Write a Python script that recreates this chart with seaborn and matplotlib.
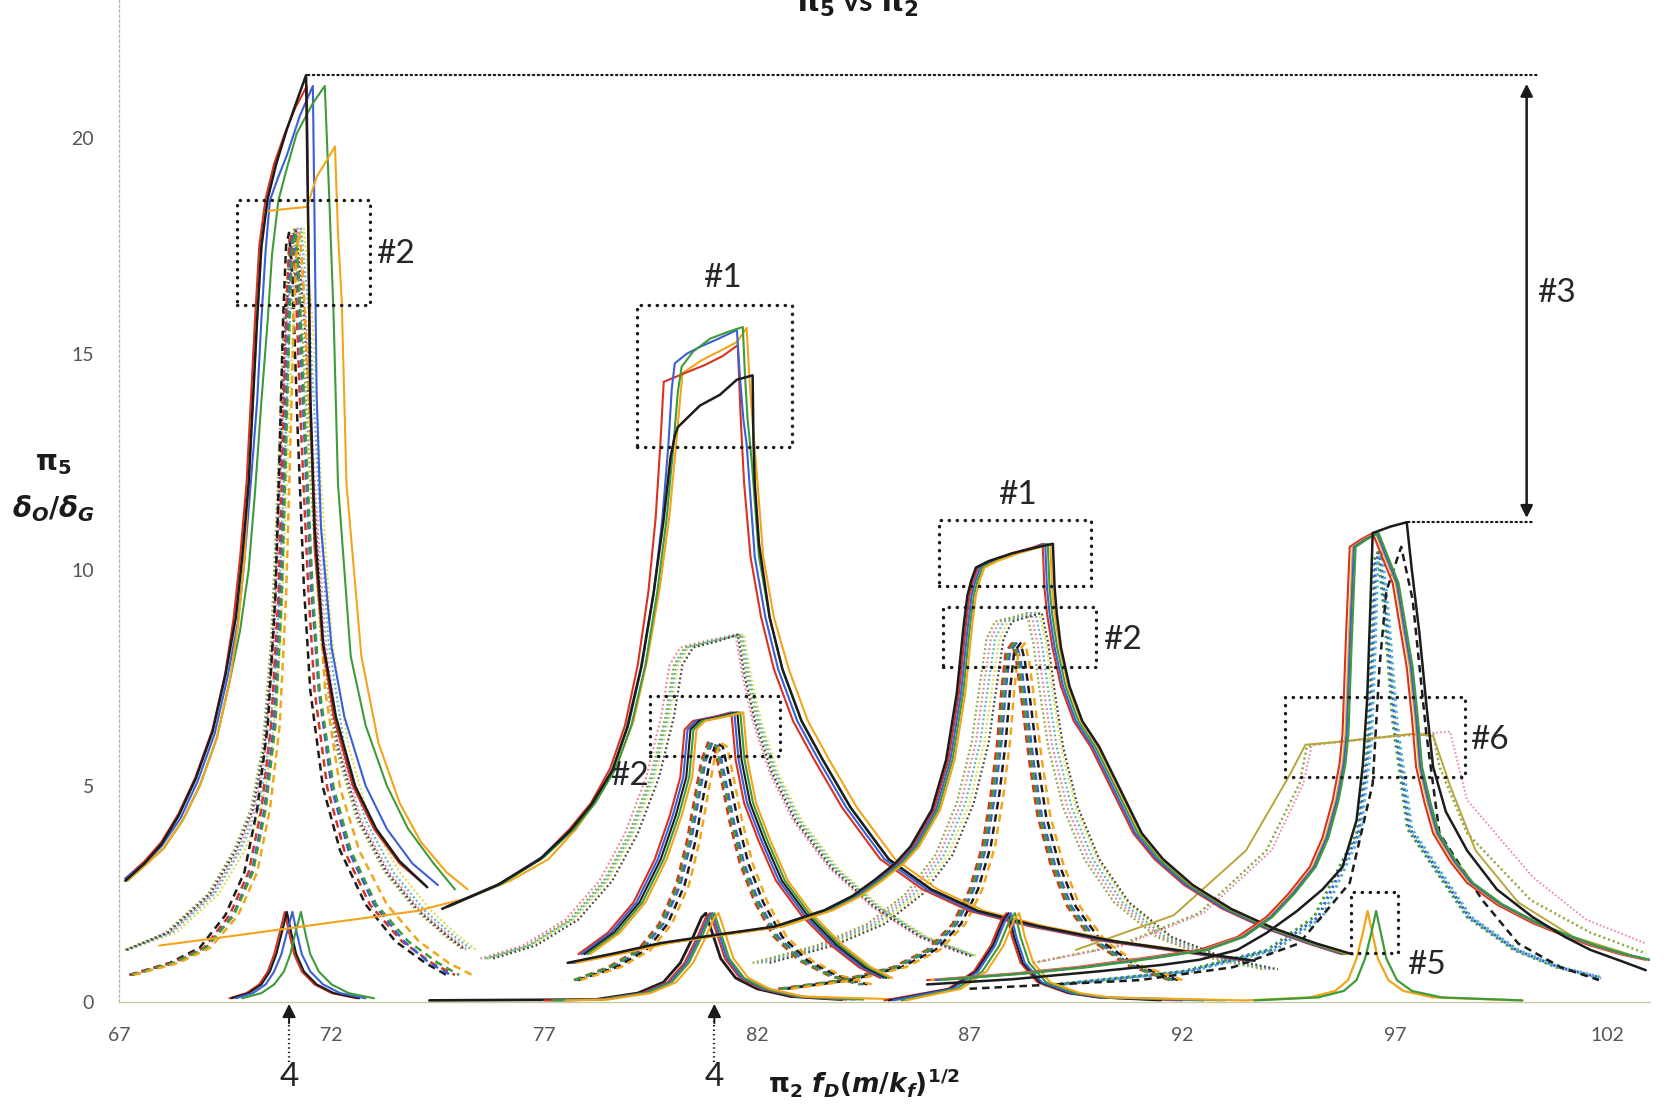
import matplotlib
matplotlib.use("Agg")
import matplotlib.pyplot as plt
from matplotlib.patches import Rectangle
import seaborn as sns

# ---------------------------------------------------------------- data
# Peak near pi2 = 71 : large solid responses
P1_RED_X = [67.15, 67.6, 68.0, 68.4, 68.8, 69.2, 69.5, 69.7, 69.85, 70.0, 70.1, 70.2, 70.3, 70.45, 70.65, 70.9, 71.15, 71.42, 71.45, 71.5, 71.6, 71.8, 72.05, 72.5, 73.0, 73.6, 74.2]
P1_RED_Y = [2.85, 3.25, 3.7, 4.35, 5.2, 6.3, 7.6, 8.9, 10.3, 12.0, 13.9, 15.8, 17.5, 18.6, 19.4, 20.1, 20.7, 21.2, 18.0, 14.0, 10.5, 8.2, 6.6, 5.0, 4.0, 3.2, 2.7]
P1_BLACK_X = [67.15, 67.6, 68.0, 68.4, 68.8, 69.2, 69.5, 69.75, 69.9, 70.05, 70.15, 70.25, 70.35, 70.5, 70.7, 70.95, 71.2, 71.4, 71.45, 71.5, 71.6, 71.8, 72.1, 72.55, 73.05, 73.6, 74.25]
P1_BLACK_Y = [2.8, 3.2, 3.65, 4.3, 5.15, 6.25, 7.55, 8.9, 10.3, 12.0, 13.9, 15.8, 17.5, 18.6, 19.4, 20.2, 20.9, 21.45, 18.0, 14.0, 11.0, 8.3, 6.6, 5.0, 4.0, 3.25, 2.65]
P1_BLUE_X = [67.15, 67.6, 68.0, 68.45, 68.85, 69.25, 69.55, 69.8, 69.95, 70.1, 70.25, 70.35, 70.45, 70.55, 70.75, 70.95, 71.25, 71.56, 71.6, 71.65, 71.75, 72.0, 72.3, 72.8, 73.3, 73.9, 74.5]
P1_BLUE_Y = [2.85, 3.2, 3.6, 4.25, 5.1, 6.2, 7.5, 8.8, 10.2, 12.0, 13.9, 15.8, 17.4, 18.55, 19.1, 19.6, 20.5, 21.2, 18.0, 14.0, 11.0, 8.2, 6.6, 5.0, 4.0, 3.2, 2.7]
P1_GREEN_X = [67.2, 67.6, 68.05, 68.5, 68.9, 69.3, 69.6, 69.85, 70.05, 70.2, 70.35, 70.5, 70.6, 70.75, 70.95, 71.18, 71.56, 71.84, 71.95, 72.05, 72.15, 72.45, 72.8, 73.3, 73.8, 74.4, 74.9]
P1_GREEN_Y = [2.8, 3.15, 3.55, 4.2, 5.0, 6.1, 7.4, 8.6, 10.0, 11.8, 13.9, 15.8, 17.3, 18.55, 19.3, 20.1, 20.8, 21.2, 18.5, 15.8, 12.0, 8.0, 6.4, 5.0, 4.0, 3.2, 2.6]
P1_ORANGE_X = [67.2, 67.6, 68.05, 68.5, 68.9, 69.3, 69.6, 69.8, 69.95, 70.05, 70.15, 70.25, 70.35, 70.45, 70.9, 71.42, 71.65, 71.9, 72.08, 72.15, 72.24, 72.35, 72.7, 73.1, 73.6, 74.1, 74.7, 75.2]
P1_ORANGE_Y = [2.8, 3.15, 3.55, 4.2, 5.0, 6.1, 7.4, 8.7, 10.2, 12.0, 13.9, 15.8, 17.4, 18.3, 18.35, 18.4, 19.1, 19.5, 19.8, 17.8, 16.2, 12.0, 8.0, 6.0, 4.6, 3.7, 3.0, 2.6]

# Peak near 71 : dashed responses
P1_DASH_Y = [0.62, 0.9, 1.25, 2.0, 3.0, 4.45, 6.4, 9.4, 12.8, 15.8, 17.5, 17.8, 16.8, 13.3, 9.6, 7.2, 4.95, 3.5, 2.25, 1.4, 0.9, 0.62]
P1_DASH_BLACK_X = [67.25, 68.2, 68.9, 69.5, 69.95, 70.25, 70.5, 70.68, 70.78, 70.86, 70.93, 71.0, 71.08, 71.2, 71.35, 71.5, 71.8, 72.2, 72.8, 73.5, 74.2, 74.7]
P1_DASH_RED_X = [67.25, 68.25, 69.0, 69.6, 70.05, 70.35, 70.58, 70.75, 70.85, 70.93, 71.0, 71.07, 71.15, 71.28, 71.45, 71.6, 71.9, 72.3, 72.9, 73.65, 74.35, 74.9]
P1_DASH_BLUE_X = [67.3, 68.3, 69.05, 69.68, 70.12, 70.42, 70.64, 70.8, 70.9, 70.98, 71.05, 71.12, 71.2, 71.35, 71.52, 71.7, 72.0, 72.4, 73.0, 73.7, 74.3, 74.8]
P1_DASH_GREEN_X = [67.3, 68.3, 69.05, 69.7, 70.15, 70.45, 70.68, 70.83, 70.93, 71.01, 71.08, 71.15, 71.23, 71.38, 71.55, 71.72, 72.05, 72.45, 73.05, 73.8, 74.5, 75.0]
P1_DASH_ORANGE_X = [67.35, 68.4, 69.15, 69.8, 70.25, 70.55, 70.78, 70.93, 71.03, 71.11, 71.18, 71.25, 71.33, 71.5, 71.68, 71.85, 72.2, 72.65, 73.3, 74.05, 74.75, 75.3]

# Peak near 71 : dotted responses
P1_DOT_Y = [1.2, 1.6, 2.5, 3.5, 4.45, 5.9, 8.4, 12.1, 15.8, 17.5, 17.9, 15.8, 12.1, 8.4, 5.9, 4.2, 3.0, 2.1, 1.5, 1.2]
P1_DOT_PINK_X = [67.15, 68.2, 69.2, 69.8, 70.2, 70.45, 70.65, 70.8, 70.95, 71.1, 71.2, 71.4, 71.6, 71.85, 72.2, 72.7, 73.35, 74.1, 74.8, 75.2]
P1_DOT_YELLOW_X = [67.2, 68.35, 69.35, 69.95, 70.35, 70.6, 70.8, 70.95, 71.1, 71.25, 71.35, 71.55, 71.75, 72.0, 72.4, 72.9, 73.6, 74.35, 75.0, 75.4]
P1_DOT_OLIVE_X = [67.15, 68.1, 69.1, 69.7, 70.1, 70.38, 70.58, 70.74, 70.88, 71.02, 71.12, 71.3, 71.5, 71.75, 72.1, 72.6, 73.25, 74.0, 74.7, 75.1]
P1_DOT_TEAL_X = [67.2, 68.25, 69.25, 69.85, 70.28, 70.52, 70.72, 70.88, 71.02, 71.18, 71.28, 71.48, 71.68, 71.92, 72.3, 72.8, 73.45, 74.2, 74.9, 75.3]
P1_DOT_DARK_X = [67.18, 68.15, 69.15, 69.75, 70.15, 70.42, 70.62, 70.78, 70.92, 71.06, 71.16, 71.36, 71.56, 71.8, 72.15, 72.65, 73.3, 74.05, 74.75, 75.15]

# Peak near 71 : small responses
P1_SMALL_Y = [0.08, 0.2, 0.4, 0.7, 1.1, 1.6, 2.08, 1.6, 1.1, 0.7, 0.4, 0.2, 0.08]
P1_SMALL_RED_X = [69.6, 70.0, 70.3, 70.5, 70.65, 70.78, 70.9, 71.0, 71.12, 71.3, 71.6, 72.0, 72.6]
P1_SMALL_BLACK_X = [69.65, 70.05, 70.35, 70.55, 70.7, 70.83, 70.95, 71.05, 71.17, 71.35, 71.65, 72.05, 72.65]
P1_SMALL_BLUE_X = [69.75, 70.15, 70.45, 70.65, 70.82, 70.95, 71.08, 71.18, 71.3, 71.5, 71.8, 72.2, 72.8]
P1_SMALL_GREEN_X = [69.9, 70.35, 70.65, 70.88, 71.03, 71.15, 71.28, 71.38, 71.5, 71.7, 72.0, 72.4, 73.0]

# Peak near 81 : large solid responses
P2_RED_X = [74.7, 75.95, 76.95, 77.6, 78.1, 78.55, 78.9, 79.2, 79.45, 79.62, 79.73, 79.81, 80.3, 80.8, 81.2, 81.55, 81.62, 81.7, 81.85, 82.1, 82.4, 82.85, 83.35, 84.0, 84.9, 85.9, 87.0, 88.4, 90.2, 92.0, 93.5]
P2_RED_Y = [2.2, 2.73, 3.35, 4.0, 4.6, 5.4, 6.4, 7.8, 9.5, 11.2, 12.9, 14.35, 14.55, 14.75, 14.95, 15.2, 13.5, 12.0, 10.3, 8.9, 7.7, 6.5, 5.6, 4.5, 3.3, 2.6, 2.1, 1.75, 1.4, 1.15, 0.95]
P2_BLUE_X = [74.7, 75.95, 76.95, 77.65, 78.15, 78.62, 78.98, 79.3, 79.58, 79.78, 79.92, 80.0, 80.07, 80.35, 80.66, 81.1, 81.53, 81.6, 81.68, 81.76, 81.95, 82.2, 82.5, 82.95, 83.45, 84.1, 85.0, 86.0, 87.1, 88.5, 90.3, 92.1, 93.6]
P2_BLUE_Y = [2.2, 2.73, 3.35, 4.0, 4.6, 5.4, 6.4, 7.8, 9.5, 11.2, 12.9, 14.2, 14.78, 15.0, 15.16, 15.35, 15.55, 14.5, 13.5, 12.9, 10.3, 8.9, 7.7, 6.5, 5.6, 4.5, 3.3, 2.6, 2.1, 1.75, 1.4, 1.15, 0.95]
P2_GREEN_X = [74.75, 76.0, 77.0, 77.7, 78.2, 78.68, 79.05, 79.38, 79.66, 79.88, 80.04, 80.14, 80.23, 80.5, 80.9, 81.3, 81.67, 81.72, 81.78, 81.88, 82.05, 82.3, 82.6, 83.05, 83.55, 84.2, 85.1, 86.1, 87.2, 88.6, 90.4, 92.2, 93.7]
P2_GREEN_Y = [2.2, 2.73, 3.35, 4.0, 4.6, 5.4, 6.4, 7.8, 9.5, 11.2, 12.9, 14.1, 14.7, 15.05, 15.35, 15.5, 15.62, 14.5, 13.5, 12.5, 10.3, 8.9, 7.7, 6.5, 5.6, 4.5, 3.3, 2.6, 2.1, 1.75, 1.4, 1.15, 0.95]
P2_ORANGE_X = [67.95, 69.5, 71.0, 72.5, 74.0, 75.2, 76.2, 77.1, 77.75, 78.25, 78.72, 79.1, 79.42, 79.72, 79.95, 80.1, 80.2, 80.25, 80.7, 81.1, 81.53, 81.76, 81.82, 81.9, 82.0, 82.15, 82.4, 82.75, 83.2, 83.7, 84.35, 85.25, 86.25, 87.35, 88.75, 90.5, 92.3]
P2_ORANGE_Y = [1.3, 1.5, 1.7, 1.9, 2.1, 2.4, 2.8, 3.3, 4.0, 4.7, 5.5, 6.5, 7.9, 9.6, 11.3, 12.9, 14.0, 14.55, 14.85, 15.05, 15.27, 15.6, 14.5, 13.4, 12.2, 10.3, 8.9, 7.7, 6.5, 5.6, 4.5, 3.3, 2.6, 2.1, 1.75, 1.4, 1.15]
P2_BLACK_X = [74.6, 75.9, 76.9, 77.6, 78.1, 78.6, 78.95, 79.28, 79.57, 79.8, 79.97, 80.07, 80.14, 80.4, 80.66, 81.13, 81.53, 81.9, 81.92, 81.95, 82.05, 82.3, 82.6, 83.05, 83.55, 84.2, 85.1, 86.1, 87.2, 88.6, 90.4, 92.2, 93.7]
P2_BLACK_Y = [2.15, 2.7, 3.3, 3.95, 4.55, 5.35, 6.35, 7.75, 9.45, 11.1, 12.6, 13.1, 13.3, 13.55, 13.8, 14.05, 14.4, 14.5, 13.0, 12.0, 10.6, 8.9, 7.7, 6.5, 5.6, 4.5, 3.3, 2.6, 2.1, 1.75, 1.4, 1.15, 0.95]

# Peak near 81 : medium solid responses
P2_MID_Y = [1.1, 1.6, 2.3, 3.3, 4.3, 5.2, 6.3, 6.5, 6.6, 6.7, 5.6, 4.6, 3.7, 2.8, 2.0, 1.3, 0.8, 0.55]
P2_MID_RED_X = [77.8, 78.5, 79.1, 79.6, 79.95, 80.2, 80.3, 80.5, 81.0, 81.4, 81.5, 81.7, 82.05, 82.45, 83.05, 83.75, 84.4, 84.9]
P2_MID_BLUE_X = [77.87, 78.57, 79.17, 79.67, 80.02, 80.27, 80.37, 80.57, 81.07, 81.47, 81.57, 81.77, 82.12, 82.52, 83.12, 83.82, 84.47, 84.97]
P2_MID_BLACK_X = [77.94, 78.64, 79.24, 79.74, 80.09, 80.34, 80.44, 80.64, 81.14, 81.54, 81.64, 81.84, 82.19, 82.59, 83.19, 83.89, 84.54, 85.04]
P2_MID_GREEN_X = [78.01, 78.71, 79.31, 79.81, 80.16, 80.41, 80.51, 80.71, 81.21, 81.61, 81.71, 81.91, 82.26, 82.66, 83.26, 83.96, 84.61, 85.11]
P2_MID_ORANGE_X = [78.08, 78.78, 79.38, 79.88, 80.23, 80.48, 80.58, 80.78, 81.28, 81.68, 81.78, 81.98, 82.33, 82.73, 83.33, 84.03, 84.68, 85.18]

# Peak near 81 : dashed responses
P2_DASH_Y = [0.5, 0.8, 1.2, 1.8, 2.7, 3.7, 4.8, 5.6, 6.0, 5.9, 5.2, 4.2, 3.2, 2.3, 1.5, 0.95, 0.6, 0.4]
P2_DASH_RED_X = [77.7, 78.5, 79.2, 79.7, 80.1, 80.35, 80.55, 80.7, 80.85, 81.0, 81.15, 81.35, 81.6, 81.95, 82.4, 83.0, 83.7, 84.4]
P2_DASH_BLUE_X = [77.75, 78.6, 79.3, 79.8, 80.2, 80.45, 80.65, 80.8, 80.95, 81.1, 81.25, 81.45, 81.7, 82.05, 82.5, 83.1, 83.8, 84.5]
P2_DASH_BLACK_X = [77.8, 78.7, 79.4, 79.9, 80.3, 80.55, 80.75, 80.9, 81.05, 81.2, 81.35, 81.55, 81.8, 82.15, 82.6, 83.2, 83.9, 84.6]
P2_DASH_GREEN_X = [77.7, 78.55, 79.25, 79.75, 80.15, 80.4, 80.6, 80.75, 80.9, 81.05, 81.2, 81.4, 81.65, 82.0, 82.45, 83.05, 83.75, 84.45]
P2_DASH_ORANGE_X = [77.85, 78.8, 79.5, 80.0, 80.4, 80.65, 80.85, 81.0, 81.15, 81.3, 81.45, 81.65, 81.9, 82.25, 82.7, 83.3, 84.0, 84.7]

# Peak near 81 : dotted responses
P2_DOT_Y = [1.0, 1.3, 1.9, 2.8, 3.9, 5.2, 6.6, 7.8, 8.2, 8.35, 8.5, 7.6, 6.5, 5.3, 4.2, 3.1, 2.2, 1.5, 1.05]
P2_DOT_PINK_X = [75.5, 76.5, 77.5, 78.3, 78.9, 79.4, 79.75, 79.95, 80.2, 80.8, 81.5, 81.65, 81.9, 82.3, 82.85, 83.7, 84.7, 85.8, 87.0]
P2_DOT_OLIVE_X = [75.6, 76.6, 77.6, 78.4, 79.0, 79.5, 79.85, 80.05, 80.3, 80.9, 81.6, 81.75, 82.0, 82.4, 82.95, 83.8, 84.8, 85.9, 87.1]
P2_DOT_YELLOW_X = [75.7, 76.7, 77.7, 78.5, 79.1, 79.6, 79.95, 80.15, 80.4, 81.0, 81.7, 81.85, 82.1, 82.5, 83.05, 83.9, 84.9, 86.0, 87.2]
P2_DOT_TEAL_X = [75.65, 76.65, 77.65, 78.45, 79.05, 79.55, 79.9, 80.1, 80.35, 80.95, 81.65, 81.8, 82.05, 82.45, 83.0, 83.85, 84.85, 85.95, 87.15]
P2_DOT_DARK_X = [75.8, 76.8, 77.8, 78.6, 79.2, 79.7, 80.05, 80.25, 80.5, 81.1, 81.55, 81.7, 81.95, 82.35, 82.9, 83.75, 84.75, 85.85, 87.05]

# Peak near 81 : small responses
P2_SMALL_Y = [0.03, 0.05, 0.2, 0.45, 0.9, 1.5, 1.95, 2.05, 1.6, 1.0, 0.55, 0.3, 0.12, 0.05]
P2_SMALL_BLACK_X = [74.3, 78.2, 79.2, 79.8, 80.2, 80.5, 80.7, 80.8, 80.95, 81.15, 81.5, 82.0, 82.8, 84.0]
P2_SMALL_RED_X = [77.0, 78.3, 79.3, 79.9, 80.3, 80.6, 80.8, 80.9, 81.05, 81.25, 81.6, 82.1, 82.9, 84.1]
P2_SMALL_BLUE_X = [77.3, 78.35, 79.35, 79.95, 80.35, 80.65, 80.85, 80.95, 81.1, 81.3, 81.65, 82.15, 82.95, 84.3]
P2_SMALL_GREEN_X = [77.2, 78.4, 79.4, 80.0, 80.4, 80.7, 80.9, 81.0, 81.15, 81.35, 81.7, 82.2, 83.0, 84.5]
P2_SMALL_ORANGE_X = [77.5, 78.5, 79.5, 80.1, 80.5, 80.8, 81.0, 81.1, 81.25, 81.45, 81.8, 82.3, 83.1, 85.5]

# Peak near 88 : large solid responses
P3_Y = [0.9, 1.12, 1.36, 1.55, 1.74, 2.12, 2.45, 2.82, 3.2, 3.59, 4.44, 5.6, 7.14, 8.69, 9.4, 9.75, 10.05, 10.2, 10.38, 10.52, 10.6, 9.6, 9.0, 8.2, 7.3, 6.5, 5.9, 4.9, 3.9, 3.3, 2.7, 2.15, 1.7, 1.35, 1.1]
P3_RED_X = [77.6, 78.7, 79.8, 81.1, 82.47, 83.64, 84.3, 84.82, 85.3, 85.66, 86.16, 86.5, 86.75, 86.91, 87.0, 87.09, 87.2, 87.5, 88.0, 88.5, 88.72, 88.76, 88.82, 88.95, 89.15, 89.45, 89.85, 90.35, 90.85, 91.35, 92.05, 92.95, 93.95, 94.95, 95.75]
P3_BLUE_X = [77.65, 78.75, 79.85, 81.15, 82.52, 83.69, 84.35, 84.87, 85.35, 85.71, 86.21, 86.55, 86.8, 86.96, 87.05, 87.14, 87.25, 87.55, 88.05, 88.55, 88.78, 88.82, 88.88, 89.0, 89.2, 89.5, 89.9, 90.4, 90.9, 91.4, 92.1, 93.0, 94.0, 95.0, 95.8]
P3_GREEN_X = [77.7, 78.8, 79.9, 81.2, 82.57, 83.74, 84.4, 84.92, 85.4, 85.76, 86.26, 86.6, 86.85, 87.01, 87.1, 87.19, 87.3, 87.6, 88.1, 88.6, 88.84, 88.88, 88.94, 89.06, 89.26, 89.56, 89.96, 90.46, 90.96, 91.46, 92.16, 93.06, 94.06, 95.06, 95.86]
P3_ORANGE_X = [77.75, 78.85, 79.95, 81.25, 82.62, 83.79, 84.45, 84.97, 85.45, 85.81, 86.31, 86.65, 86.9, 87.06, 87.15, 87.24, 87.35, 87.65, 88.15, 88.65, 88.9, 88.94, 89.0, 89.12, 89.32, 89.62, 90.02, 90.52, 91.02, 91.52, 92.22, 93.12, 94.12, 95.12, 95.92]
P3_BLACK_X = [77.55, 78.65, 79.75, 81.05, 82.42, 83.59, 84.25, 84.77, 85.25, 85.61, 86.11, 86.45, 86.7, 86.86, 86.95, 87.04, 87.15, 87.45, 88.0, 88.58, 88.96, 89.0, 89.05, 89.15, 89.35, 89.65, 90.05, 90.55, 91.05, 91.55, 92.25, 93.15, 94.15, 95.15, 96.0]

# Peak near 88 : dashed responses
P3_DASH_Y = [0.3, 0.5, 0.8, 1.2, 1.8, 2.6, 3.6, 4.8, 6.0, 7.2, 8.1, 8.3, 7.9, 6.8, 5.6, 4.3, 3.2, 2.2, 1.4, 0.85, 0.5]
P3_DASH_RED_X = [82.5, 84.0, 85.2, 86.0, 86.6, 87.0, 87.3, 87.5, 87.65, 87.75, 87.85, 88.0, 88.1, 88.25, 88.4, 88.6, 88.9, 89.3, 89.9, 90.7, 91.7]
P3_DASH_BLUE_X = [82.6, 84.1, 85.3, 86.1, 86.7, 87.1, 87.4, 87.6, 87.75, 87.85, 87.95, 88.1, 88.2, 88.35, 88.5, 88.7, 89.0, 89.4, 90.0, 90.8, 91.8]
P3_DASH_BLACK_X = [82.7, 84.2, 85.4, 86.2, 86.8, 87.2, 87.5, 87.7, 87.85, 87.95, 88.05, 88.2, 88.3, 88.45, 88.6, 88.8, 89.1, 89.5, 90.1, 90.9, 91.9]
P3_DASH_GREEN_X = [82.55, 84.05, 85.25, 86.05, 86.65, 87.05, 87.35, 87.55, 87.7, 87.8, 87.9, 88.05, 88.15, 88.3, 88.45, 88.65, 88.95, 89.35, 89.95, 90.75, 91.75]
P3_DASH_ORANGE_X = [82.8, 84.3, 85.5, 86.3, 86.9, 87.3, 87.6, 87.8, 87.95, 88.05, 88.15, 88.3, 88.4, 88.55, 88.7, 88.9, 89.2, 89.6, 90.2, 91.0, 92.0]

# Peak near 88 : dotted responses
P3_DOT_Y = [0.9, 1.3, 1.8, 2.5, 3.4, 4.6, 6.0, 7.4, 8.4, 8.8, 8.9, 9.0, 8.3, 7.2, 5.9, 4.5, 3.3, 2.3, 1.5, 1.0, 0.75]
P3_DOT_PINK_X = [82.0, 83.5, 84.7, 85.6, 86.3, 86.8, 87.15, 87.35, 87.5, 87.7, 88.1, 88.45, 88.6, 88.75, 88.95, 89.3, 89.8, 90.5, 91.5, 92.8, 94.0]
P3_DOT_YELLOW_X = [82.2, 83.7, 84.9, 85.8, 86.5, 87.0, 87.35, 87.55, 87.7, 87.9, 88.3, 88.65, 88.8, 88.95, 89.15, 89.5, 90.0, 90.7, 91.7, 93.0, 94.2]
P3_DOT_OLIVE_X = [81.9, 83.4, 84.6, 85.5, 86.2, 86.7, 87.05, 87.25, 87.4, 87.6, 88.0, 88.35, 88.5, 88.65, 88.85, 89.2, 89.7, 90.4, 91.4, 92.7, 93.9]
P3_DOT_TEAL_X = [82.1, 83.6, 84.8, 85.7, 86.4, 86.9, 87.25, 87.45, 87.6, 87.8, 88.2, 88.55, 88.7, 88.85, 89.05, 89.4, 89.9, 90.6, 91.6, 92.9, 94.1]
P3_DOT_DARK_X = [82.3, 83.8, 85.0, 85.9, 86.6, 87.1, 87.45, 87.65, 87.8, 88.0, 88.35, 88.7, 88.85, 89.0, 89.2, 89.55, 90.05, 90.75, 91.75, 93.05, 94.25]

# Peak near 88 : small responses
P3_SMALL_Y = [0.03, 0.3, 0.7, 1.3, 1.9, 2.05, 1.5, 0.9, 0.45, 0.2, 0.1, 0.03]
P3_SMALL_RED_X = [85.0, 86.5, 87.1, 87.5, 87.75, 87.87, 88.0, 88.2, 88.6, 89.3, 90.0, 92.0]
P3_SMALL_BLACK_X = [85.1, 86.55, 87.15, 87.55, 87.8, 87.92, 88.05, 88.25, 88.65, 89.35, 90.05, 91.5]
P3_SMALL_BLUE_X = [85.2, 86.6, 87.2, 87.6, 87.85, 87.97, 88.1, 88.3, 88.7, 89.4, 90.1, 92.5]
P3_SMALL_GREEN_X = [85.4, 86.7, 87.3, 87.7, 87.95, 88.07, 88.2, 88.4, 88.8, 89.5, 90.2, 93.0]
P3_SMALL_ORANGE_X = [85.5, 86.8, 87.4, 87.8, 88.05, 88.17, 88.3, 88.5, 88.9, 89.6, 90.3, 93.5]

# Peak near 96 : large solid responses
P4_Y = [0.5, 0.65, 0.8, 1.0, 1.2, 1.5, 1.96, 2.5, 3.12, 3.8, 4.67, 5.5, 6.2, 8.4, 10.53, 10.7, 10.85, 10.3, 9.69, 8.8, 7.75, 6.6, 5.44, 4.6, 3.9, 3.25, 2.75, 2.25, 1.82, 1.52, 1.3, 1.1, 0.97]
P4_RED_X = [86.0, 88.0, 89.5, 91.0, 92.4, 93.3, 93.98, 94.5, 95.0, 95.3, 95.54, 95.7, 95.77, 95.85, 95.94, 96.2, 96.48, 96.7, 96.95, 97.1, 97.28, 97.4, 97.5, 97.7, 97.9, 98.3, 98.7, 99.4, 100.24, 101.0, 101.6, 102.3, 102.9]
P4_ORANGE_X = [86.1, 88.1, 89.6, 91.1, 92.5, 93.38, 94.05, 94.57, 95.07, 95.37, 95.61, 95.77, 95.84, 95.92, 96.01, 96.27, 96.55, 96.77, 97.02, 97.17, 97.35, 97.47, 97.57, 97.77, 97.97, 98.37, 98.77, 99.47, 100.31, 101.07, 101.67, 102.37, 102.97]
P4_BLUE_X = [86.2, 88.2, 89.7, 91.2, 92.55, 93.42, 94.08, 94.6, 95.1, 95.4, 95.64, 95.8, 95.87, 95.95, 96.04, 96.3, 96.58, 96.8, 97.05, 97.2, 97.38, 97.5, 97.6, 97.8, 98.0, 98.4, 98.8, 99.5, 100.34, 101.1, 101.7, 102.4, 103.0]
P4_GREEN_X = [86.3, 88.3, 89.8, 91.3, 92.6, 93.46, 94.12, 94.64, 95.14, 95.44, 95.68, 95.84, 95.91, 95.99, 96.08, 96.34, 96.62, 96.84, 97.09, 97.24, 97.42, 97.54, 97.64, 97.84, 98.04, 98.44, 98.84, 99.54, 100.38, 101.14, 101.74, 102.44, 103.0]
P4_BLACK_X = [86.0, 88.0, 90.0, 91.5, 92.4, 93.3, 93.98, 94.7, 95.3, 95.77, 96.1, 96.25, 96.35, 96.42, 96.48, 96.9, 97.28, 97.4, 97.58, 97.75, 97.9, 98.2, 98.7, 99.4, 100.24, 101.0, 101.6, 102.3, 102.9]
P4_BLACK_Y = [0.4, 0.52, 0.7, 0.85, 0.97, 1.2, 1.59, 2.1, 2.6, 3.12, 4.2, 5.5, 7.0, 9.0, 10.85, 11.0, 11.1, 10.0, 8.52, 6.8, 5.44, 4.4, 3.5, 2.6, 1.96, 1.5, 1.2, 0.95, 0.73]

# Peak near 96 : dashed responses
P4_DASH_BLACK_X = [87.0, 91.0, 93.2, 94.75, 95.94, 96.48, 96.64, 96.8, 97.15, 97.42, 97.74, 98.05, 99.06, 99.9, 100.9, 101.8]
P4_DASH_BLACK_Y = [0.3, 0.5, 0.8, 1.35, 2.75, 5.05, 7.75, 9.5, 10.53, 9.3, 6.22, 3.9, 2.35, 1.35, 0.8, 0.5]
P4_NARROW_Y = [0.4, 0.7, 1.2, 1.96, 3.9, 6.0, 8.5, 10.2, 10.4, 9.0, 6.5, 4.0, 1.96, 1.2, 0.8, 0.55]
P4_NARROW_GREEN_X = [89.0, 92.0, 94.0, 95.1, 96.1, 96.35, 96.45, 96.5, 96.6, 96.75, 96.95, 97.3, 98.7, 99.8, 100.8, 101.8]
P4_NARROW_BLUE_X = [89.1, 92.1, 94.1, 95.2, 96.15, 96.4, 96.5, 96.55, 96.65, 96.8, 97.0, 97.35, 98.75, 99.85, 100.85, 101.85]
P4_NARROW_TEAL_X = [89.2, 92.2, 94.2, 95.3, 96.2, 96.45, 96.55, 96.6, 96.7, 96.85, 97.05, 97.4, 98.8, 99.9, 100.9, 101.9]

# Peak near 96 : flat-topped responses
P4_FLAT_OLIVE_X = [88.5, 90.5, 92.4, 93.98, 94.76, 94.93, 95.1, 96.0, 97.0, 97.9, 98.05, 98.7, 100.2, 101.6, 102.9]
P4_FLAT_OLIVE_Y = [0.9, 1.3, 2.05, 3.5, 5.05, 5.9, 5.95, 6.05, 6.15, 6.21, 5.44, 3.9, 2.35, 1.6, 1.12]
P4_FLAT_PINK_X = [88.5, 90.6, 92.5, 94.1, 94.85, 95.05, 95.5, 96.5, 97.5, 98.3, 98.7, 100.24, 101.5, 102.9]
P4_FLAT_PINK_Y = [0.9, 1.3, 2.05, 3.5, 5.05, 5.95, 6.0, 6.1, 6.2, 6.25, 4.67, 2.89, 1.9, 1.35]
P4_FLAT_SOLID_X = [89.5, 91.8, 93.5, 94.5, 94.9, 95.5, 96.5, 97.4, 97.9, 98.3, 98.9, 99.9, 101.2, 102.5]
P4_FLAT_SOLID_Y = [1.2, 2.0, 3.5, 5.2, 5.95, 6.0, 6.1, 6.2, 6.15, 5.0, 3.5, 2.3, 1.5, 1.1]

# Peak near 96 : small responses
P4_SMALL_Y = [0.03, 0.1, 0.25, 0.5, 1.0, 1.6, 2.1, 1.6, 1.0, 0.5, 0.25, 0.1, 0.03]
P4_SMALL_ORANGE_X = [93.5, 95.0, 95.6, 95.9, 96.1, 96.25, 96.36, 96.47, 96.6, 96.85, 97.2, 97.9, 100.0]
P4_SMALL_GREEN_X = [93.7, 95.2, 95.8, 96.1, 96.3, 96.45, 96.56, 96.67, 96.8, 97.05, 97.4, 98.1, 100.0]

X_TICKS = [67, 72, 77, 82, 87, 92, 97, 102]
Y_TICKS = [0, 5, 10, 15, 20]

# ---------------------------------------------------------------- style
sns.set_style("white")
plt.rcParams["font.family"] = ["Lato", "DejaVu Sans"]
plt.rcParams["mathtext.fontset"] = "custom"
plt.rcParams["mathtext.rm"] = "DejaVu Sans:bold"
plt.rcParams["mathtext.it"] = "DejaVu Sans:bold:italic"
plt.rcParams["mathtext.bf"] = "DejaVu Sans:bold"

RED = "#d9321f"
BLUE = "#3a5fd9"
GREEN = "#3e9b3a"
ORANGE = "#f2a51a"
BLACK = "#1c1c1c"
PINK = "#ef7fa8"
YELLOW = "#e3dc3c"
OLIVE = "#8aa83c"
TEAL = "#4fb6c4"
DARK = "#444444"

SOLID = "-"
DASHED = (0, (3, 2))
DOTTED = (0, (0.8, 1.2))

fig = plt.figure(figsize=(16.68, 11.07), dpi=100)
ax = fig.add_axes([0.0713, 0.0951, 0.9179, 0.9049])


def curve(x, y, color, ls=SOLID, lw=1.5):
    sns.lineplot(x=x, y=y, sort=False, estimator=None, color=color,
                 linestyle=ls, linewidth=lw, ax=ax, legend=False)


# dotted families first
for xs, c in [(P1_DOT_PINK_X, PINK), (P1_DOT_YELLOW_X, YELLOW), (P1_DOT_OLIVE_X, OLIVE),
              (P1_DOT_TEAL_X, TEAL), (P1_DOT_DARK_X, DARK)]:
    curve(xs, P1_DOT_Y, c, DOTTED, 1.6)
for xs, c in [(P2_DOT_PINK_X, PINK), (P2_DOT_YELLOW_X, YELLOW), (P2_DOT_OLIVE_X, OLIVE),
              (P2_DOT_TEAL_X, TEAL), (P2_DOT_DARK_X, DARK)]:
    curve(xs, P2_DOT_Y, c, DOTTED, 1.6)
for xs, c in [(P3_DOT_PINK_X, PINK), (P3_DOT_YELLOW_X, YELLOW), (P3_DOT_OLIVE_X, OLIVE),
              (P3_DOT_TEAL_X, TEAL), (P3_DOT_DARK_X, DARK)]:
    curve(xs, P3_DOT_Y, c, DOTTED, 1.6)
curve(P4_FLAT_OLIVE_X, P4_FLAT_OLIVE_Y, OLIVE, DOTTED, 1.8)
curve(P4_FLAT_PINK_X, P4_FLAT_PINK_Y, PINK, DOTTED, 1.4)
for xs, c in [(P4_NARROW_GREEN_X, GREEN), (P4_NARROW_BLUE_X, BLUE), (P4_NARROW_TEAL_X, TEAL)]:
    curve(xs, P4_NARROW_Y, c, DOTTED, 2.2)

# dashed families
for xs, c in [(P1_DASH_BLACK_X, BLACK), (P1_DASH_RED_X, RED), (P1_DASH_BLUE_X, BLUE),
              (P1_DASH_GREEN_X, GREEN), (P1_DASH_ORANGE_X, ORANGE)]:
    curve(xs, P1_DASH_Y, c, DASHED, 1.8)
for xs, c in [(P2_DASH_RED_X, RED), (P2_DASH_BLUE_X, BLUE), (P2_DASH_BLACK_X, BLACK),
              (P2_DASH_GREEN_X, GREEN), (P2_DASH_ORANGE_X, ORANGE)]:
    curve(xs, P2_DASH_Y, c, DASHED, 1.8)
for xs, c in [(P3_DASH_RED_X, RED), (P3_DASH_BLUE_X, BLUE), (P3_DASH_BLACK_X, BLACK),
              (P3_DASH_GREEN_X, GREEN), (P3_DASH_ORANGE_X, ORANGE)]:
    curve(xs, P3_DASH_Y, c, DASHED, 1.8)
curve(P4_DASH_BLACK_X, P4_DASH_BLACK_Y, BLACK, DASHED, 1.8)

# solid families
curve(P4_FLAT_SOLID_X, P4_FLAT_SOLID_Y, "#b9a53a", SOLID, 1.4)
for xs, ys, c in [(P1_RED_X, P1_RED_Y, RED), (P1_BLUE_X, P1_BLUE_Y, BLUE),
                  (P1_GREEN_X, P1_GREEN_Y, GREEN), (P1_ORANGE_X, P1_ORANGE_Y, ORANGE),
                  (P1_BLACK_X, P1_BLACK_Y, BLACK)]:
    curve(xs, ys, c, SOLID, 1.8 if c == BLACK else 1.5)
for xs, c in [(P1_SMALL_RED_X, RED), (P1_SMALL_BLACK_X, BLACK), (P1_SMALL_BLUE_X, BLUE),
              (P1_SMALL_GREEN_X, GREEN)]:
    curve(xs, P1_SMALL_Y, c, SOLID, 1.5)
for xs, ys, c in [(P2_ORANGE_X, P2_ORANGE_Y, ORANGE), (P2_RED_X, P2_RED_Y, RED),
                  (P2_BLUE_X, P2_BLUE_Y, BLUE), (P2_GREEN_X, P2_GREEN_Y, GREEN),
                  (P2_BLACK_X, P2_BLACK_Y, BLACK)]:
    curve(xs, ys, c, SOLID, 1.8 if c == BLACK else 1.5)
for xs, c in [(P2_MID_RED_X, RED), (P2_MID_BLUE_X, BLUE), (P2_MID_BLACK_X, BLACK),
              (P2_MID_GREEN_X, GREEN), (P2_MID_ORANGE_X, ORANGE)]:
    curve(xs, P2_MID_Y, c, SOLID, 1.5)
for xs, c in [(P2_SMALL_BLACK_X, BLACK), (P2_SMALL_RED_X, RED), (P2_SMALL_BLUE_X, BLUE),
              (P2_SMALL_GREEN_X, GREEN), (P2_SMALL_ORANGE_X, ORANGE)]:
    curve(xs, P2_SMALL_Y, c, SOLID, 2.0 if c == BLACK else 1.5)
for xs, c in [(P3_RED_X, RED), (P3_BLUE_X, BLUE), (P3_GREEN_X, GREEN),
              (P3_ORANGE_X, ORANGE), (P3_BLACK_X, BLACK)]:
    curve(xs, P3_Y, c, SOLID, 1.8 if c == BLACK else 1.5)
for xs, c in [(P3_SMALL_RED_X, RED), (P3_SMALL_BLACK_X, BLACK), (P3_SMALL_BLUE_X, BLUE),
              (P3_SMALL_GREEN_X, GREEN), (P3_SMALL_ORANGE_X, ORANGE)]:
    curve(xs, P3_SMALL_Y, c, SOLID, 1.5)
for xs, c in [(P4_RED_X, RED), (P4_ORANGE_X, ORANGE), (P4_BLUE_X, BLUE), (P4_GREEN_X, GREEN)]:
    curve(xs, P4_Y, c, SOLID, 1.5)
curve(P4_BLACK_X, P4_BLACK_Y, BLACK, SOLID, 1.8)
for xs, c in [(P4_SMALL_ORANGE_X, ORANGE), (P4_SMALL_GREEN_X, GREEN)]:
    curve(xs, P4_SMALL_Y, c, SOLID, 1.6)

# ---------------------------------------------------------------- axes
ax.set_xlim(67, 103)
ax.set_ylim(0, 23.19)
ax.set_xticks(X_TICKS)
ax.set_yticks(Y_TICKS)
ax.set_xlabel("")
ax.set_ylabel("")
for side in ("top", "right"):
    ax.spines[side].set_visible(False)
ax.spines["left"].set_color("#b5b5b5")
ax.spines["left"].set_linestyle((0, (2, 2)))
ax.spines["left"].set_linewidth(0.9)
ax.spines["bottom"].set_color("#c9c9a8")
ax.spines["bottom"].set_linewidth(1.0)
ax.tick_params(axis="both", which="major", labelsize=14, labelcolor="#555555",
               color="#a0a0a0", length=4, width=0.8, direction="out")
ax.tick_params(axis="x", pad=14)
ax.tick_params(axis="y", pad=14)

# ---------------------------------------------------------------- annotations
BOX_KW = dict(fill=False, edgecolor="#1a1a1a", linewidth=2.4,
              linestyle=(0, (0.1, 2.3)), capstyle="round", zorder=5)
LABEL_KW = dict(fontsize=24, color="#262626", zorder=6)

boxes = [
    (69.77, 16.13, 72.9, 18.56),
    (79.18, 12.84, 82.82, 16.13),
    (79.48, 5.69, 82.54, 7.07),
    (86.28, 9.62, 89.85, 11.15),
    (86.37, 7.74, 89.97, 9.13),
    (94.41, 5.2, 98.64, 7.05),
    (95.98, 1.13, 97.07, 2.54),
]
for x0, y0, x1, y1 in boxes:
    ax.add_patch(Rectangle((x0, y0), x1 - x0, y1 - y0, **BOX_KW))

ax.text(73.05, 17.3, "#2", ha="left", va="center", **LABEL_KW)
ax.text(81.2, 16.75, "#1", ha="center", va="center", **LABEL_KW)
ax.text(78.55, 5.22, "#2", ha="left", va="center", **LABEL_KW)
ax.text(88.13, 11.73, "#1", ha="center", va="center", **LABEL_KW)
ax.text(90.13, 8.37, "#2", ha="left", va="center", **LABEL_KW)
ax.text(98.76, 6.06, "#6", ha="left", va="center", **LABEL_KW)
ax.text(97.3, 0.85, "#5", ha="left", va="center", **LABEL_KW)
ax.text(100.35, 16.4, "#3", ha="left", va="center", **LABEL_KW)

# reference levels and the amplitude span between the two tallest peaks
ax.plot([71.45, 100.4], [21.45, 21.45], color="#1a1a1a", lw=1.6,
        linestyle=(0, (0.6, 1.6)), dash_capstyle="round", zorder=5)
ax.plot([97.3, 100.25], [11.1, 11.1], color="#1a1a1a", lw=1.6,
        linestyle=(0, (0.6, 1.6)), dash_capstyle="round", zorder=5)
ax.annotate("", xy=(100.1, 21.25), xytext=(100.1, 11.2),
            arrowprops=dict(arrowstyle="<|-|>", color="#1a1a1a", lw=1.8,
                            mutation_scale=18, shrinkA=0, shrinkB=0), zorder=6)

# markers for the frequency band under the axis
for xm in (71.0, 81.0):
    ax.plot([xm, xm], [-1.4, -0.45], color="#1a1a1a", lw=1.6,
            linestyle=(0, (0.6, 1.4)), clip_on=False, zorder=6)
    ax.annotate("", xy=(xm, -0.05), xytext=(xm, -0.5), annotation_clip=False,
                arrowprops=dict(arrowstyle="-|>", color="#1a1a1a", lw=1.4,
                                mutation_scale=20, shrinkA=0, shrinkB=0))
    ax.text(xm, -1.75, "4", ha="center", va="center", fontsize=24,
            color="#262626", clip_on=False)

# titles and axis names
fig.text(0.514, 0.989, r"$\mathrm{\pi}_5$ vs $\mathrm{\pi}_2$", ha="center",
         va="baseline", fontsize=22, fontweight="bold", color="#1a1a1a")
fig.text(0.0318, 0.581, r"$\mathrm{\pi}_5$", ha="center", va="center",
         fontsize=20, color="#1a1a1a")
fig.text(0.0318, 0.541, r"$\delta_O/\delta_G$", ha="center", va="center",
         fontsize=20, color="#1a1a1a")
fig.text(0.518, 0.0217, r"$\mathrm{\pi}_2\ f_D(m/k_f)^{1/2}$", ha="center",
         va="center", fontsize=19, color="#1a1a1a")

fig.savefig("out.png", dpi=100)
